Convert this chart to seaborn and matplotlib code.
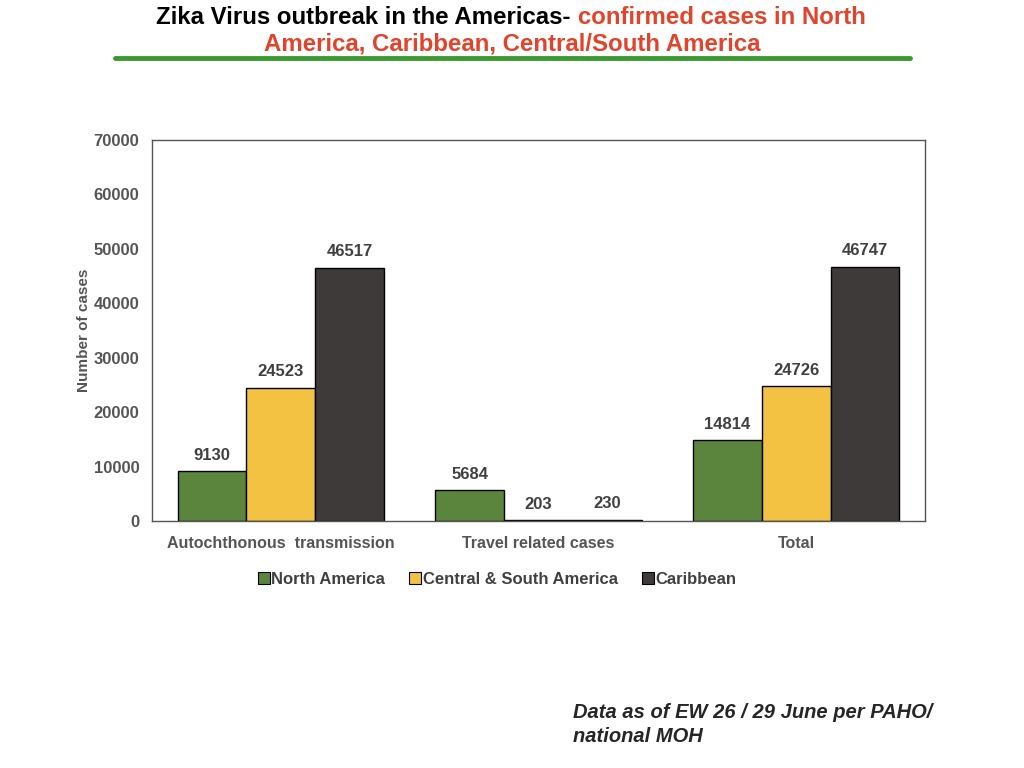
import matplotlib
matplotlib.use("Agg")
import matplotlib.pyplot as plt
import seaborn as sns
import pandas as pd
from matplotlib.lines import Line2D

# chart data
categories = ["Autochthonous  transmission", "Travel related cases", "Total"]
regions = ["North America", "Central & South America", "Caribbean"]
north_america = [9130, 5684, 14814]
central_south = [24523, 203, 24726]
caribbean = [46517, 230, 46747]
y_ticks = [0, 10000, 20000, 30000, 40000, 50000, 60000, 70000]

colors = ["#5b843c", "#f3c242", "#3d3a39"]

rows = []
for reg, vals in zip(regions, [north_america, central_south, caribbean]):
    for cat, v in zip(categories, vals):
        rows.append({"Category": cat, "Region": reg, "Cases": v})
df = pd.DataFrame(rows)

sns.set_style("white")
plt.rcParams["font.family"] = ["Liberation Sans", "DejaVu Sans"]

fig = plt.figure(figsize=(10.24, 7.68), dpi=100)
ax = fig.add_axes([152 / 1024, 1 - 521 / 768, (925 - 152) / 1024, (521 - 140) / 768])

sns.barplot(data=df, x="Category", y="Cases", hue="Region", palette=colors,
            order=categories, hue_order=regions, width=0.8, saturation=1,
            edgecolor="black", linewidth=1, ax=ax)

for cont in ax.containers:
    ax.bar_label(cont, padding=6, fontsize=12, fontweight="bold", color="#404040")

ax.set_ylim(0, 70000)
ax.set_yticks(y_ticks)
ax.set_yticklabels([str(t) for t in y_ticks], fontsize=12, fontweight="bold", color="#555555")
ax.set_xticks(range(len(categories)))
ax.set_xticklabels(categories, fontsize=11.5, fontweight="bold", color="#555555")
ax.tick_params(axis="x", length=0, pad=11)
ax.tick_params(axis="y", length=0, pad=9)
ax.set_xlabel("")
ax.set_ylabel("Number of cases", fontsize=11, fontweight="bold", color="#555555", labelpad=2)
for s in ax.spines.values():
    s.set_color("#555555")
    s.set_linewidth(1)

handles = [Line2D([0], [0], marker="s", linestyle="", markersize=9,
                  markerfacecolor=c, markeredgecolor="black", markeredgewidth=0.8)
           for c in colors]
ax.legend(handles, regions, loc="upper center", bbox_to_anchor=(0.446, -0.095), ncol=3,
          frameon=False, handletextpad=0.05, columnspacing=1.4, handlelength=0.8,
          prop={"size": 12, "weight": "bold"}, labelcolor="#404040")

# title in two colours
title_font = dict(fontsize=17.3, fontweight="bold", family=["Liberation Sans Narrow", "Liberation Sans", "DejaVu Sans"])
red = "#e2432a"
fig.canvas.draw()
r = fig.canvas.get_renderer()
t1 = fig.text(0, 1 - 17 / 768, "Zika Virus outbreak in the Americas- ", color="black", va="center", **title_font)
t2 = fig.text(0, 1 - 17 / 768, "confirmed cases in North", color=red, va="center", **title_font)
w1 = t1.get_window_extent(r).width
w2 = t2.get_window_extent(r).width
start = 511 - (w1 + w2) / 2
t1.set_x(start / 1024)
t2.set_x((start + w1) / 1024)
fig.text(512 / 1024, 1 - 44 / 768, "America, Caribbean, Central/South America", color=red,
         ha="center", va="center", **title_font)
fig.add_artist(Line2D([115 / 1024, 910 / 1024], [1 - 58 / 768, 1 - 58 / 768],
                      color="#3a9a2f", linewidth=3.5, transform=fig.transFigure))

fig.text(573 / 1024, 1 - 712 / 768, "Data as of EW 26 / 29 June per PAHO/", fontsize=14.5,
         fontweight="bold", style="italic", va="center")
fig.text(573 / 1024, 1 - 736 / 768, "national MOH", fontsize=14.5,
         fontweight="bold", style="italic", va="center")

fig.savefig("out.png", dpi=100)
